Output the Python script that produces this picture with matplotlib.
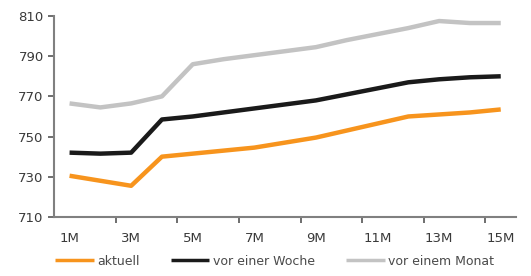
import matplotlib
matplotlib.use("Agg")
import matplotlib.pyplot as plt

plt.rcParams['font.family'] = ['DejaVu Sans']

# Laufzeiten (Monate) und Kurven
months = list(range(1, 16))
tick_labels = ['1M', '3M', '5M', '7M', '9M', '11M', '13M', '15M']
aktuell = [730.5, 728, 725.5, 740, 741.5, 743, 744.5, 747, 749.5, 753, 756.5, 760, 761, 762, 763.5]
vor_woche = [742, 741.5, 742, 758.5, 760, 762, 764, 766, 768, 771, 774, 777, 778.5, 779.5, 780]
vor_monat = [766.5, 764.5, 766.5, 770, 786, 788.5, 790.5, 792.5, 794.5, 798, 801, 804, 807.5, 806.5, 806.5]

fig = plt.figure(figsize=(5.31, 2.76), dpi=100)
ax = fig.add_axes([0.102, 0.214, 0.870, 0.728])

ax.plot(months, aktuell, color='#F7941D', lw=3.2, label='aktuell', solid_capstyle='butt')
ax.plot(months, vor_woche, color='#1a1a1a', lw=3.2, label='vor einer Woche', solid_capstyle='butt')
ax.plot(months, vor_monat, color='#c3c3c3', lw=3.2, label='vor einem Monat', solid_capstyle='butt')

ax.set_xlim(0.5, 15.5)
ax.set_ylim(710, 810)
ax.set_yticks([710, 730, 750, 770, 790, 810])
ax.set_xticks(months[::2])
ax.set_xticklabels(tick_labels)
ax.set_xticks([m + 0.5 for m in months[1:-1:2]], minor=True)

for s in ['top', 'right']:
    ax.spines[s].set_visible(False)
for s in ['left', 'bottom']:
    ax.spines[s].set_color('#808080')
    ax.spines[s].set_linewidth(1.5)

ax.tick_params(axis='y', direction='out', length=4, width=1.2, color='#555555',
               labelsize=9.5, labelcolor='#3a3a3a', pad=3.5)
ax.tick_params(axis='x', which='major', length=0, labelsize=9.5, labelcolor='#3a3a3a', pad=10.5)
ax.tick_params(axis='x', which='minor', direction='out', length=4, width=1.2, color='#555555')

leg = fig.legend(loc='center left', bbox_to_anchor=(0.1036, 0.054), ncol=3, frameon=False,
                 fontsize=9, handlelength=3.1, handletextpad=0.25, columnspacing=2.5,
                 borderpad=0, borderaxespad=0, labelcolor='#4a4a4a')
for line in leg.get_lines():
    line.set_linewidth(2.5)

fig.savefig('out.png', dpi=100)
